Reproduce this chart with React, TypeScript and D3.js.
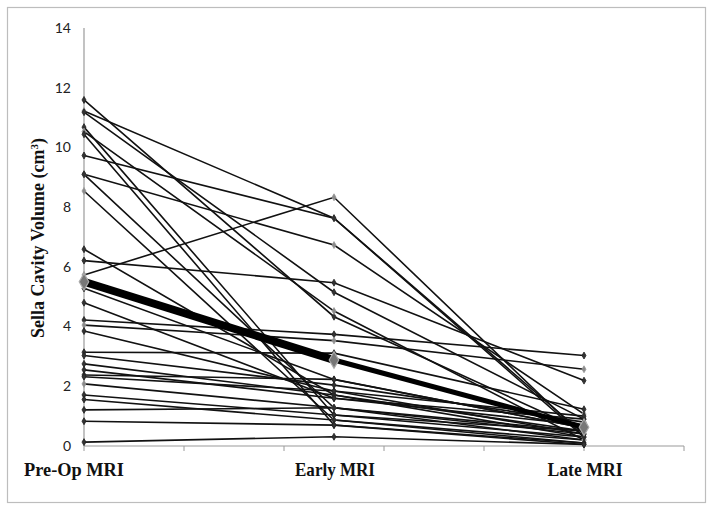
import React from "react";
import * as d3 from "d3";

const categories = ["Pre-Op MRI", "Early MRI", "Late MRI"];
const yTicks = [0, 2, 4, 6, 8, 10, 12, 14];

// Each patient: [Pre-Op, Early, Late] sella cavity volume (cm³)
const preOp = [11.59, 11.22, 11.18, 10.68, 10.53, 10.44, 9.73, 9.1, 9.1, 8.54, 6.59, 6.21, 5.73, 5.28, 4.8, 4.22, 4.05, 3.85, 3.14, 3.03, 2.75, 2.55, 2.38, 2.32, 2.08, 1.71, 1.56, 1.21, 0.83, 0.13];
const early = [4.33, 7.63, 5.15, 1.04, 4.52, 0.7, 7.63, 6.73, 1.28, 0.87, 1.71, 5.47, 8.33, 2.23, 1.6, 3.74, 3.53, 1.84, 3.11, 2.04, 1.71, 1.6, 2.23, 1.84, 1.28, 1.04, 0.87, 1.28, 0.7, 0.31];
const late = [0.5, 0.3, 0.9, 0.5, 0.2, 0.1, 0.4, 1.07, 0.5, 0.2, 0.3, 2.19, 0.3, 0.6, 0.7, 3.03, 2.57, 0.4, 1.23, 0.8, 0.5, 0.9, 0.6, 1.0, 0.2, 0.3, 0.1, 0.4, 0.05, 0.05];
const greyMarker = [false, true, false, false, true, false, false, true, false, true, false, false, true, false, false, false, true, false, false, false, false, false, false, false, true, false, false, false, false, false];
const meanValues = [5.5, 2.88, 0.63];

export default function App() {
  const W = 714, H = 512;
  const x = d3.scaleLinear().domain([0, 6]).range([84, 684]);
  const catPos = [0, 2.5, 5];
  const y = d3.scaleLinear().domain([0, 14]).range([446, 28]);
  const line = d3.line<number>().x((_, i) => x(catPos[i])).y((d) => y(d));
  const xTicks = d3.range(0, 7);
  const diamond = d3.symbol().type(d3.symbolDiamond);

  const patients = preOp.map((p, i) => [p, early[i], late[i]]);

  return (
    <svg width={W} height={H} style={{ position: "absolute", left: 0, top: 0 }}>
      <rect x={0} y={0} width={W} height={H} fill="#fff" />
      <rect x={7.5} y={7.5} width={698} height={495} fill="none" stroke="#bdbdbd" strokeWidth={1.2} />
      {/* axes */}
      <line x1={x(0)} x2={x(0)} y1={y(14)} y2={y(0)} stroke="#9a9a9a" strokeWidth={1.2} />
      <line x1={x(0)} x2={x(6)} y1={y(0)} y2={y(0)} stroke="#9a9a9a" strokeWidth={1.2} />
      {xTicks.map((t) => (
        <line key={t} x1={x(t)} x2={x(t)} y1={y(0)} y2={y(0) + 5} stroke="#9a9a9a" strokeWidth={1} />
      ))}
      {yTicks.map((t) => (
        <text key={t} x={71} y={y(t)} dy="0.35em" textAnchor="end" fontFamily="Lato, 'Open Sans', sans-serif" fontSize={14} fill="#222">
          {t}
        </text>
      ))}
      {/* patient lines */}
      {patients.map((d, i) => (
        <path key={i} d={line(d) || ""} fill="none" stroke="#111" strokeWidth={1.6} />
      ))}
      {patients.map((d, i) =>
        d.map((v, j) => (
          <path
            key={`${i}-${j}`}
            d={diamond.size(14)() || ""}
            transform={`translate(${x(catPos[j])},${y(v)})`}
            fill={greyMarker[i] ? "#8a8a8a" : "#333"}
            stroke={greyMarker[i] ? "#999" : "#222"}
            strokeWidth={0.8}
          />
        ))
      )}
      {/* mean line */}
      <line x1={x(catPos[0])} y1={y(meanValues[0])} x2={x(catPos[1])} y2={y(meanValues[1])} stroke="#000" strokeWidth={8} />
      <line x1={x(catPos[1])} y1={y(meanValues[1])} x2={x(catPos[2])} y2={y(meanValues[2])} stroke="#000" strokeWidth={5} />
      {meanValues.map((v, j) => (
        <path
          key={j}
          d={diamond.size(80)() || ""}
          transform={`translate(${x(catPos[j])},${y(v)})`}
          fill="#777"
          stroke="#aaa"
          strokeWidth={1.2}
        />
      ))}
      {/* category labels */}
      {categories.map((c, i) => (
        <text
          key={c}
          x={i === 0 ? 74 : x(catPos[i]) + 1}
          y={476}
          textAnchor="middle"
          fontFamily="'Liberation Serif', 'Times New Roman', serif"
          fontWeight="bold"
          fontSize={19}
          fill="#111"
          textLength={i === 0 ? 100 : i === 1 ? 80 : 75}
          lengthAdjust="spacingAndGlyphs"
        >
          {c}
        </text>
      ))}
      {/* y title */}
      <text
        transform={`translate(44,${238}) rotate(-90)`}
        textAnchor="middle"
        fontFamily="'Liberation Serif', 'Times New Roman', serif"
        fontWeight="bold"
        fontSize={18}
        fill="#111"
      >
        Sella Cavity Volume (cm
        <tspan dy={-6} fontSize={11}>3</tspan>
        <tspan dy={6}>)</tspan>
      </text>
    </svg>
  );
}
